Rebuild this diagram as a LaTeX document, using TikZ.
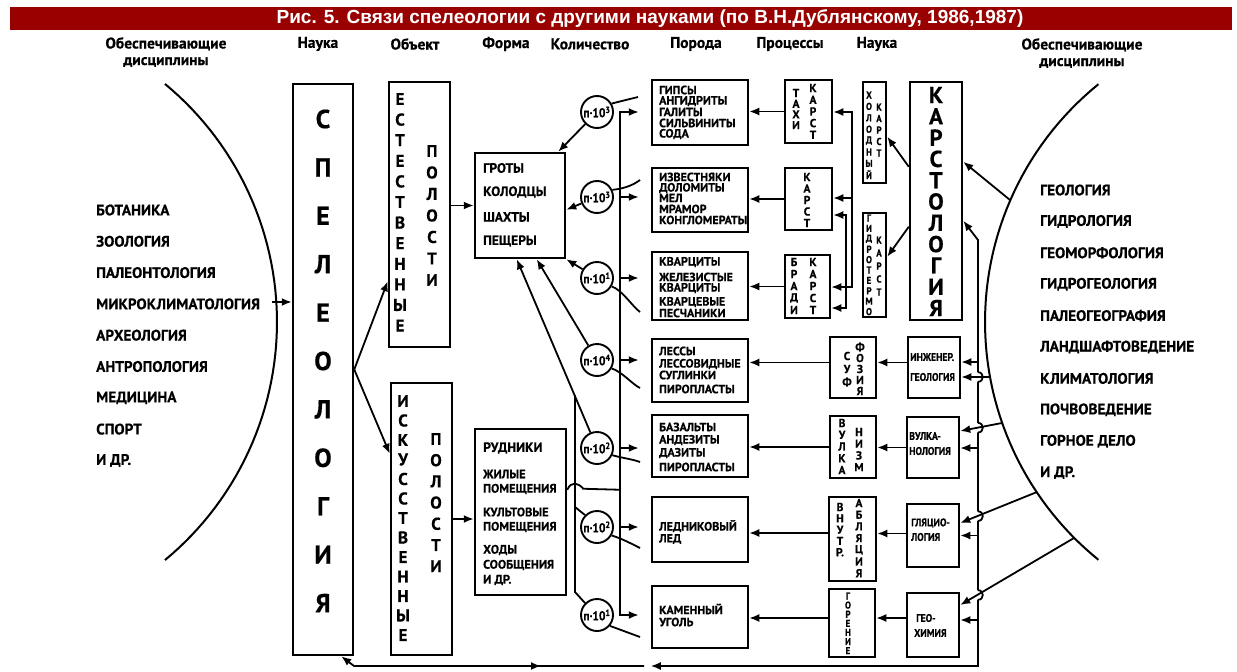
\documentclass[tikz,border=0pt]{standalone}
\usepackage{fontspec}
\usetikzlibrary{arrows.meta,calc}
\newfontfamily\tf{Liberation Sans}
\newfontfamily\cf[FakeBold=0.5]{PT Sans}
\newfontfamily\cfn[FakeStretch=0.88,FakeBold=0.5]{PT Sans}
\definecolor{titlered}{RGB}{153,0,0}
\newcommand\fs[1]{\fontsize{#1}{#1}\selectfont}
\newcommand\bx[5]{\node[box, minimum width={(#4-#2)*1pt}, minimum height={(#5-#3)*1pt}] (#1) at ({(#2+#4)/2},{(#3+#5)/2}) {};}
\newcommand\vlet[6]{\foreach \lt [count=\i from 0] in {#6} {\node[vl, font={#5}] (#1\i) at (#2,{#3+#4*\i}) {\lt};}}
\tikzset{
  box/.style={draw, line width=2.5pt, inner sep=0pt},
  vl/.style={inner sep=0pt},
  conn/.style={line width=1.8pt},
  arr/.style={line width=1.8pt, -{Latex[length=10pt,width=8pt]}},
  txt/.style={inner sep=0pt, anchor=west, font=\cf\bfseries\fs{15.2}},
  hd/.style={inner sep=0pt, align=center, font=\cf\bfseries\fontsize{15.5}{16.5}\selectfont},
  rk/.style={inner sep=0pt, anchor=west, font=\cf\bfseries\fs{12}},
  sm/.style={inner sep=0pt, anchor=west, font=\cfn\bfseries\fs{11}},
  circ/.style={draw, circle, line width=1.9pt, minimum size=32pt, inner sep=0pt, font=\cfn\bfseries\fs{13}},
}
\begin{document}
\begin{tikzpicture}[x=1pt,y=-1pt]
\fill[white] (0,0) rectangle (1237,672);
\useasboundingbox (0,0) rectangle (1237,672);
% title
\fill[titlered] (10,7) rectangle (1232,30);
\node[inner sep=0pt, text=white, font=\tf\bfseries\fs{19}] (title) at (650,19) {Рис. 5. Связи спелеологии с другими науками (по В.Н.Дублянскому, 1986,1987)};
% headers
\node[hd] (hL) at (166,52) {Обеспечивающие\\дисциплины};
\node[hd] (hSci1) at (318,44) {Наука};
\node[hd] (hObj) at (415,44) {Объект};
\node[hd] (hForm) at (506,44) {Форма};
\node[hd] (hQty) at (590,44) {Количество};
\node[hd] (hRock) at (696,44) {Порода};
\node[hd] (hProc) at (790,44) {Процессы};
\node[hd] (hSci2) at (877,44) {Наука};
\node[hd] (hR) at (1082,53) {Обеспечивающие\\дисциплины};
% arcs
\draw[line width=2pt] plot[domain=-50.4:50.4, samples=60] ({-32+309*cos(\x)},{322+309*sin(\x)});
\draw[line width=2pt] plot[domain=-51:51, samples=60] ({1291-306*cos(\x)},{322+306*sin(\x)});
% lists
\foreach \t [count=\i from 0] in {БОТАНИКА,ЗООЛОГИЯ,ПАЛЕОНТОЛОГИЯ,МИКРОКЛИМАТОЛОГИЯ,АРХЕОЛОГИЯ,АНТРОПОЛОГИЯ,МЕДИЦИНА,СПОРТ,И ДР.}
  {\node[txt] (L\i) at (96,{210+31.3*\i}) {\t};}
\foreach \t [count=\i from 0] in {ГЕОЛОГИЯ,ГИДРОЛОГИЯ,ГЕОМОРФОЛОГИЯ,ГИДРОГЕОЛОГИЯ,ПАЛЕОГЕОГРАФИЯ,ЛАНДШАФТОВЕДЕНИЕ,КЛИМАТОЛОГИЯ,ПОЧВОВЕДЕНИЕ,ГОРНОЕ ДЕЛО,И ДР.}
  {\node[txt] (R\i) at (1040,{190+31.4*\i}) {\t};}
% speleology
\bx{spel}{293}{84}{353}{655}
\vlet{sp}{323}{119}{48.4}{\cf\bfseries\fs{26}}{С,П,Е,Л,Е,О,Л,О,Г,И,Я}
\bx{est}{389}{82}{450}{347}
\vlet{es}{400}{99}{20.6}{\cf\bfseries\fs{17}}{Е,С,Т,Е,С,Т,В,Е,Н,Н,Ы,Е}
\vlet{ep}{432}{151}{21.5}{\cf\bfseries\fs{17}}{П,О,Л,О,С,Т,И}
\bx{isk}{391}{383}{452}{655}
\vlet{is}{403}{401}{19.5}{\cf\bfseries\fs{17}}{И,С,К,У,С,С,Т,В,Е,Н,Н,Ы,Е}
\vlet{ip}{436}{439}{21.2}{\cf\bfseries\fs{17}}{П,О,Л,О,С,Т,И}
\coordinate (mk) at (272,302);
\draw[arr] (mk) -- (mk -| spel.west);
\draw[arr] (spel.east) -- ($(est.south west)+(0,-67)$);
\draw[arr] (spel.east) -- ($(isk.north west)+(0,72)$);
% forms
\bx{grot}{475}{153}{565}{258}
\node[txt, font=\cf\bfseries\fs{13.5}] (g1) at (483,168) {ГРОТЫ};
\node[txt, font=\cf\bfseries\fs{13.5}] (g2) at (483,192) {КОЛОДЦЫ};
\node[txt, font=\cf\bfseries\fs{13.5}] (g3) at (483,217) {ШАХТЫ};
\node[txt, font=\cf\bfseries\fs{13.5}] (g4) at (483,241) {ПЕЩЕРЫ};
\draw[arr] (grot.west -| est.east) -- (grot.west);
\bx{rud}{475}{429}{566}{595}
\node[txt, font=\cf\bfseries\fs{13.5}] (u1) at (483,448) {РУДНИКИ};
\node[txt, font=\cf\bfseries\fs{12.3}] (u2) at (483,474) {ЖИЛЫЕ};
\node[txt, font=\cf\bfseries\fs{12.3}] (u3) at (483,489) {ПОМЕЩЕНИЯ};
\node[txt, font=\cf\bfseries\fs{12.3}] (u4) at (483,512) {КУЛЬТОВЫЕ};
\node[txt, font=\cf\bfseries\fs{12.3}] (u5) at (483,527) {ПОМЕЩЕНИЯ};
\node[txt, font=\cf\bfseries\fs{12.3}] (u6) at (483,550) {ХОДЫ};
\node[txt, font=\cf\bfseries\fs{12.3}] (u7) at (483,565) {СООБЩЕНИЯ};
\node[txt, font=\cf\bfseries\fs{12.3}] (u8) at (483,580) {И ДР.};
\draw[arr] (isk.east) -- (isk.east -| rud.west);
% circles
\node[circ] (c1) at (597,112) {п·10\textsuperscript{3}};
\node[circ] (c2) at (597,197) {п·10\textsuperscript{3}};
\node[circ] (c3) at (597,278) {п·10\textsuperscript{1}};
\node[circ] (c4) at (597,360) {п·10\textsuperscript{4}};
\node[circ] (c5) at (597,448) {п·10\textsuperscript{2}};
\node[circ] (c6) at (597,527) {п·10\textsuperscript{2}};
\node[circ] (c7) at (597,615) {п·10\textsuperscript{1}};
% rocks
\bx{r1}{652}{80}{748}{145}
\bx{r2}{652}{168}{748}{232}
\bx{r3}{652}{252}{748}{320}
\bx{r4}{652}{339}{748}{402}
\bx{r5}{652}{415}{748}{477}
\bx{r6}{652}{497}{748}{562}
\bx{r7}{652}{586}{748}{648}
\foreach \y/\t [count=\i] in {90/ГИПСЫ,101/АНГИДРИТЫ,112/ГАЛИТЫ,123/СИЛЬВИНИТЫ,134/СОДА,
  177/ИЗВЕСТНЯКИ,188/ДОЛОМИТЫ,198/МЕЛ,209/МРАМОР,220/КОНГЛОМЕРАТЫ,
  262/КВАРЦИТЫ,277/ЖЕЛЕЗИСТЫЕ,288/КВАРЦИТЫ,302/КВАРЦЕВЫЕ,313/ПЕСЧАНИКИ,
  351/ЛЕССЫ,364/ЛЕССОВИДНЫЕ,375/СУГЛИНКИ,389/ПИРОПЛАСТЫ,
  427/БАЗАЛЬТЫ,440/АНДЕЗИТЫ,453/ДАЗИТЫ,467/ПИРОПЛАСТЫ,
  526/ЛЕДНИКОВЫЙ,539/ЛЕД,609/КАМЕННЫЙ,622/УГОЛЬ}
  {\node[rk] (rt\i) at (659,\y) {\t};}
% bus to rocks
\coordinate (busT) at (620,112);
\coordinate (busB) at (620,615);
\draw[arr] (busB) -- (busT) -- ($(busT -| r1.west)+(-12,0)$);
\draw[arr] (busT) -- (busB) -- ($(busB -| r7.west)+(-12,0)$);
\foreach \n in {2,...,6} {\draw[arr] (c\n -| busT) -- ($(c\n -| r\n.west)+(-12,0)$);}
\coordinate (rw) at ($(rud.north east)+(0,62)$);
\draw[conn] (rw) .. controls +(4,-9) and +(-5,-6) .. ++(16,-1) -- (rw -| busT);
% secondary line
\coordinate (v5t) at (575,395);
\coordinate (v5m) at (575,507);
\coordinate (v5b) at (575,592);
\draw[conn] (v5t) -- (v5b) -- (c7.135);
\draw[conn] (v5m) -- (c6.135);
% arrows to forms
\draw[arr] (c1) -- ($(grot.north east)+(-8,0)$);
\draw[arr] (c2) -- ($(grot.north east)+(0,58)$);
\draw[arr] (c3) -- (grot.south east);
\draw[arr] (c4) -- ($(grot.south west)+(63,0)$);
\draw[arr] (c5) -- ($(grot.south west)+(43,0)$);
% circle-to-rock lines
\coordinate (w1) at (638,97);
\coordinate (w2) at (640,180);
\coordinate (w3) at (640,312);
\coordinate (w4) at (640,388);
\coordinate (w5) at (640,462);
\coordinate (w6) at (640,548);
\coordinate (w7) at (640,637);
\draw[conn] (c1.30) -- (w1);
\draw[conn] (c2.25) .. controls +(10,-1) and +(-8,6) .. (w2);
\draw[conn] (c3.-30) .. controls +(10,3) and +(-8,-6) .. (w3);
\draw[conn] (c4.-30) .. controls +(10,3) and +(-8,-4) .. (w4);
\draw[conn] (c5.-25) .. controls +(10,3) and +(-8,-3) .. (w5);
\draw[conn] (c6.-30) .. controls +(10,3) and +(-8,-4) .. (w6);
\draw[conn] (c7.-40) -- (w7);
% processes
\bx{taxi}{785}{80}{832}{143}
\vlet{tx}{796}{93}{10.7}{\cf\bfseries\fs{11.5}}{Т,А,Х,И}
\vlet{tk}{813}{88}{11.7}{\cf\bfseries\fs{11.5}}{К,А,Р,С,Т}
\bx{karst}{785}{168}{832}{230}
\vlet{kk}{807}{177}{11.5}{\cf\bfseries\fs{11.5}}{К,А,Р,С,Т}
\bx{bradi}{785}{255}{830}{318}
\vlet{bd}{794}{262}{12}{\cf\bfseries\fs{11.5}}{Б,Р,А,Д,И}
\vlet{bk}{813}{262}{12}{\cf\bfseries\fs{11.5}}{К,А,Р,С,Т}
\bx{hol}{863}{82}{886}{183}
\vlet{hx}{869}{95}{11.4}{\cfn\bfseries\fs{10}}{Х,О,Л,О,Д,Н,Ы,Й}
\vlet{hk}{879}{107}{11.5}{\cfn\bfseries\fs{10}}{К,А,Р,С,Т}
\bx{gidro}{863}{213}{886}{317}
\vlet{gx}{869}{218}{10.4}{\cfn\bfseries\fs{10}}{Г,И,Д,Р,О,Т,Е,Р,М,О}
\vlet{gk}{879}{240}{13}{\cfn\bfseries\fs{10}}{К,А,Р,С,Т}
\bx{karstol}{910}{82}{962}{320}
\vlet{kl}{936}{95}{21.3}{\cf\bfseries\fs{23}}{К,А,Р,С,Т,О,Л,О,Г,И,Я}
\draw[arr] ($(karstol.north west)+(0,86)$) -- ($(hol.north east)+(0,56)$);
\draw[arr] ($(karstol.north west)+(0,146)$) -- ($(gidro.north east)+(0,45)$);
\draw[arr] (taxi.west) -- (taxi.west -| r1.east);
\draw[arr] (karst.west) -- (karst.west -| r2.east);
\draw[arr] (bradi.west) -- (bradi.west -| r3.east);
\coordinate (dA1) at (852,112);
\coordinate (dA2) at (852,287);
\coordinate (dA3) at (852,198);
\coordinate (dB1) at (846,215);
\coordinate (dB2) at (846,308);
\draw[arr] (dA2) -- (dA1) -- (dA1 -| taxi.east);
\draw[arr] (dA1) -- (dA2) -- (dA2 -| bradi.east);
\draw[arr] (dA3) -- (dA3 -| karst.east);
\draw[arr] (dB2) -- (dB1) -- (dB1 -| karst.east);
\draw[arr] (dB1) -- (dB2) -- (dB2 -| bradi.east);
% lower processes
\bx{suf}{830}{337}{876}{398}
\vlet{sa}{847}{356}{13}{\cf\bfseries\fs{11.5}}{С,У,Ф}
\vlet{sb}{860}{347}{11}{\cf\bfseries\fs{11.5}}{Ф,О,З,И,Я}
\bx{inzh}{908}{337}{960}{398}
\node[sm] (iz1) at (910,357) {ИНЖЕНЕР.};
\node[sm] (iz2) at (910,377) {ГЕОЛОГИЯ};
\bx{vulk}{830}{416}{876}{478}
\vlet{va}{842}{423}{11.75}{\cf\bfseries\fs{11.5}}{В,У,Л,К,А}
\vlet{vb}{859}{432}{11.7}{\cf\bfseries\fs{11.5}}{Н,И,З,М}
\bx{vulkn}{907}{417}{959}{478}
\node[sm] (vn1) at (909,436) {ВУЛКА-};
\node[sm] (vn2) at (909,451) {НОЛОГИЯ};
\bx{abl}{829}{497}{876}{581}
\vlet{aa}{840}{507}{11.3}{\cf\bfseries\fs{11.5}}{В,Н,У,Т,Р.}
\vlet{ab}{859}{503}{11.7}{\cf\bfseries\fs{11.5}}{А,Б,Л,Я,Ц,И,Я}
\bx{glac}{907}{504}{959}{567}
\node[sm] (gl1) at (911,523) {ГЛЯЦИО-};
\node[sm] (gl2) at (911,537) {ЛОГИЯ};
\bx{gor}{829}{589}{875}{657}
\vlet{go}{848}{596}{9.1}{\cfn\bfseries\fs{10}}{Г,О,Р,Е,Н,И,Е}
\bx{geoh}{907}{593}{959}{657}
\node[sm] (ge1) at (916,618) {ГЕО-};
\node[sm] (ge2) at (914,633) {ХИМИЯ};
\coordinate (y4) at ($(suf.west)+(0,-5)$);
\draw[arr] (y4) -- (y4 -| r4.east);
\draw[arr] (vulk.west) -- (vulk.west -| r5.east);
\coordinate (y6) at ($(abl.west)+(0,-6)$);
\draw[arr] (y6) -- (y6 -| r6.east);
\coordinate (y7) at ($(gor.west)+(0,-5)$);
\draw[arr] (y7) -- (y7 -| r7.east);
\coordinate (z4) at ($(inzh.west)+(0,-5)$);
\draw[arr] (z4) -- (z4 -| suf.east);
\draw[arr] (vulkn.west) -- (vulkn.west -| vulk.east);
\coordinate (z6) at ($(glac.west)+(0,-2)$);
\draw[arr] (z6) -- (z6 -| abl.east);
\coordinate (z7) at ($(geoh.west)+(0,-7)$);
\draw[arr] (z7) -- (z7 -| gor.east);
% right bus
\coordinate (RbT) at (978,240);
\coordinate (RbB) at (978,666);
\draw[arr] (RbB) -- (RbT) -- ($(karstol.north east)+(0,140)$);
\draw[arr] (RbT) -- (RbB) -- (RbB -| r7.west);
\coordinate (b1) at ($(inzh.east)+(0,-5.5)$);
\coordinate (b2) at ($(vulkn.east)+(0,0.5)$);
\coordinate (b3) at (glac.east);
\coordinate (b4) at ($(geoh.east)+(0,-5)$);
\foreach \k in {1,...,4} {\draw[arr] (b\k -| RbT) -- (b\k);}
% arc lines
\coordinate (a0) at (1010,200);
\draw[arr] (a0) -- ($(karstol.north east)+(0,81)$);
\coordinate (a1) at (990,377);
\coordinate (a2) at (1002,423);
\coordinate (a3) at (1037,492);
\coordinate (a4) at (1074,538);
\coordinate (e1) at ($(inzh.east)+(0,9.5)$);
\coordinate (e2) at ($(vulkn.east)+(0,-16.5)$);
\coordinate (e3) at ($(glac.east)+(0,-12.5)$);
\coordinate (e4) at ($(geoh.east)+(0,-20)$);
\coordinate (x1) at (978,377);
\coordinate (x2) at (978,427.7);
\coordinate (x3) at (978,516.1);
\coordinate (x4) at (978,595);
\foreach \k in {1,...,4} {
  \fill[white] (x\k) circle[radius=4.8pt];
  \draw[conn] (x\k) ++(0,-4.8) .. controls +(6.4,0) and +(6.4,0) .. ++(0,9.6);
  \draw[arr] (a\k) -- (e\k);
}
% bottom return
\coordinate (Lb1) at (644,666);
\coordinate (Lb2) at (354,666);
\coordinate (Lm) at (541,666);
\draw[arr] (Lb1) -- (Lb2) -- ($(spel.south east)+(-13,0)$);
\draw[arr] (Lb2) -- (Lm);
\end{tikzpicture}
\end{document}
